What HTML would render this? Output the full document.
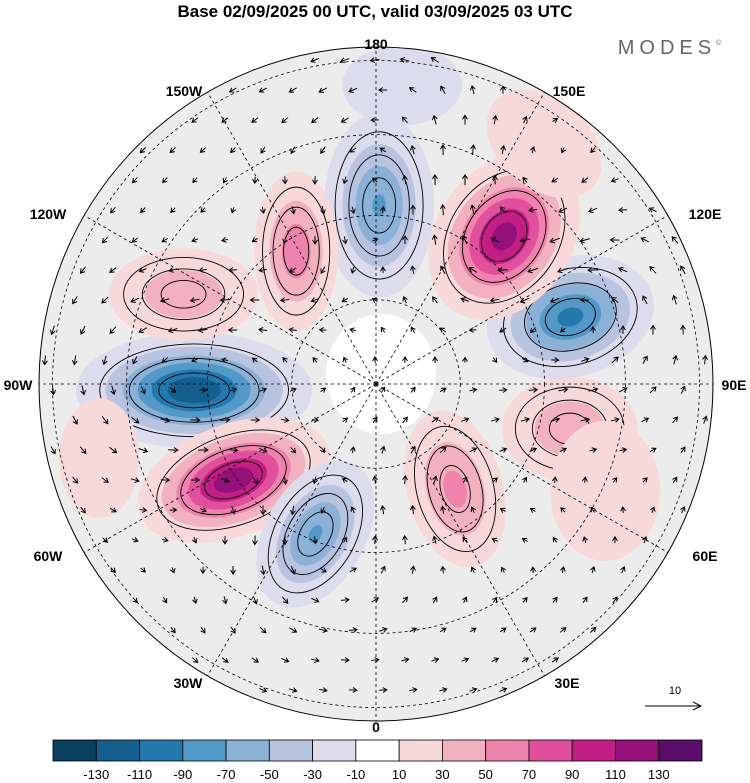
<!DOCTYPE html>
<html><head><meta charset="utf-8">
<style>
html,body{margin:0;padding:0;background:#fff;width:750px;height:783px;overflow:hidden}
svg{display:block}
text{font-family:"Liberation Sans",sans-serif}
</style></head>
<body>
<svg id="chart" width="750" height="783" viewBox="0 0 750 783">
<text x="375" y="17" text-anchor="middle" font-size="17" font-weight="bold">Base 02/09/2025 00 UTC, valid 03/09/2025 03 UTC</text>
<text x="672" y="54" text-anchor="middle" font-size="20" fill="#666" letter-spacing="5">MODES<tspan font-size="7" dy="-9">©</tspan></text>
<defs><clipPath id="disk"><circle cx="376" cy="384" r="337"/></clipPath></defs>
<g id="map" clip-path="url(#disk)"></g>
<circle cx="376" cy="384" r="337" fill="none" stroke="#000" stroke-width="1"/>
<g id="labels"></g>
<g id="refarrow">
<text x="675" y="694" text-anchor="middle" font-size="11">10</text>
<line x1="645" y1="706" x2="700" y2="706" stroke="#000" stroke-width="1"/>
<path d="M693,702 L701,706 L693,710" fill="none" stroke="#000"/>
</g>
<g id="cbar"></g>
</svg>
<script>
// anomaly centres: longitude (deg E), polar distance (fraction of disk radius), amplitude
const blobLon = [-88, -56, -22, 37, 77, 109, 139, 179, -149, -115, 175, 145, -75, 65];
const blobDist = [0.54, 0.51, 0.48, 0.39, 0.59, 0.61, 0.58, 0.53, 0.46, 0.63, 0.89, 0.87, 0.85, 0.75];
const blobAmp = [-125, 122, -72, 55, 45, -95, 118, -72, 62, 45, -22, 25, 14, 14];
const blobA = [118, 100, 50, 48, 68, 85, 68, 55, 42, 75, 60, 65, 40, 55];
const blobB = [58, 56, 80, 80, 52, 60, 90, 92, 80, 46, 40, 45, 60, 70];
const blobRot = [0, -20, 30, -15, 0, -15, 35, 0, 0, 0, 0, 40, 0, 0];
// colour scale
const levels = [-130,-110,-90,-70,-50,-30,-10,10,30,50,70,90,110,130];
const colors = ["#0b3f5f","#155f8c","#2379ae","#5399c8","#8cb1d6","#b8c3df","#dcdcec","#ffffff","#f7d9da","#f2b1bf","#ee84ad","#e0509c","#c31e86","#931178","#5b0e69"];
const lonLabels = ["180","150E","120E","90E","60E","30E","0","30W","60W","90W","120W","150W"];
const lonVals = [180,150,120,90,60,30,0,-30,-60,-90,-120,-150];

const NS="http://www.w3.org/2000/svg";
const CX=376, CY=384, R=337;
function mk(t,a,p){const e=document.createElementNS(NS,t);for(const k in a)e.setAttribute(k,a[k]);p.appendChild(e);return e;}
function pos(lon,d){const t=lon*Math.PI/180;return [CX+R*d*Math.sin(t), CY+R*d*Math.cos(t)];}
function colorFor(v){let i=0;while(i<levels.length&&v>levels[i])i++;return colors[i];}

const map=document.getElementById('map');
const bg=mk('rect',{x:0,y:0,width:750,height:783,fill:"#ececec"},map);


const pole=mk('ellipse',{cx:CX+5,cy:CY-10,rx:55,ry:60,fill:"#fff"},map);



for(let i=0;i<blobLon.length;i++){
  const [x,y]=pos(blobLon[i],blobDist[i]);
  const amp=blobAmp[i], s=Math.sign(amp), A=Math.abs(amp);
  const g=mk('g',{transform:`translate(${x},${y}) rotate(${blobRot[i]})`},map);
  
  
  const base=Math.log(A/10);
  for(let L=10;L<A;L+=20){
    const f=Math.sqrt(Math.log(A/L)/base);
    const e=mk('ellipse',{cx:0,cy:0,rx:blobA[i]*f,ry:blobB[i]*f,fill:colorFor(s*(L+1))},g);
    
    
  }
  if(A>40){
    for(const f of [0.8,0.55,0.3]){
      const c=mk('ellipse',{cx:0,cy:0,rx:blobA[i]*f,ry:blobB[i]*f,fill:"none",stroke:"#000","stroke-width":0.9},g);
      
      
    }
  }
}
// grid
const grid=mk('g',{fill:"none",stroke:"#000","stroke-width":0.8,"stroke-dasharray":"3,3"},map);


for(const r of [0.25,0.5,0.74,0.96]) mk('circle',{cx:CX,cy:CY,r:R*r},grid);
for(const l of lonVals){const [x,y]=pos(l,1);mk('line',{x1:CX,y1:CY,x2:x,y2:y},grid);}
// wind arrows from vortex field
const arr=mk('g',{stroke:"#000","stroke-width":1,fill:"none"},map);


const centers=blobLon.map((l,i)=>pos(l,blobDist[i]));
for(let gy=60;gy<730;gy+=30){for(let gx=45;gx<720;gx+=30){
  const px=gx+((gy/30)%2)*8, py=gy;
  if(Math.hypot(px-CX,py-CY)>R-5)continue;
  let u=0.3*(py-CY)/R*3, v=-0.3*(px-CX)/R*3;
  for(let i=0;i<centers.length;i++){
    const dx=px-centers[i][0], dy=py-centers[i][1];
    const sc=(blobA[i]+blobB[i])/2;
    const w=blobAmp[i]/30*Math.exp(-(dx*dx+dy*dy)/(2*sc*sc))/sc*20;
    u+=-dy*w/sc*2; v+=dx*w/sc*2;
  }
  const m=Math.hypot(u,v)||1, len=Math.min(20,5+m*3);
  const ux=u/m,uy=v/m;
  const x2=px+ux*len/2,y2=py+uy*len/2,x1=px-ux*len/2,y1=py-uy*len/2;
  mk('path',{d:`M${x1},${y1}L${x2},${y2}M${x2-ux*4-uy*2.5},${y2-uy*4+ux*2.5}L${x2},${y2}L${x2-ux*4+uy*2.5},${y2-uy*4-ux*2.5}`},arr);
}}
// longitude labels
const lab=document.getElementById('labels');
const labPos=[[376,49],[569,96],[705,219],[734,390],[705,561],[567,688],[376,732],[188,688],[48,561],[18,390],[48,219],[184,96]];
lonLabels.forEach((t,i)=>{
  const e=mk('text',{x:labPos[i][0],y:labPos[i][1],"text-anchor":"middle","font-size":14,"font-weight":"bold"},lab);
  e.textContent=t;
  
  
});
// colorbar
const cb=document.getElementById('cbar');
const x0=53,x1=702,w=(x1-x0)/colors.length;
colors.forEach((c,i)=>{
  const r=mk('rect',{x:x0+i*w,y:740,width:w,height:21,fill:c,stroke:"#000","stroke-width":0.8},cb);
  
  
});
levels.forEach((l,i)=>{
  const t=mk('text',{x:x0+(i+1)*w,y:779,"text-anchor":"middle","font-size":13},cb);
  t.textContent=l;
  
  
});
</script>
</body></html>
